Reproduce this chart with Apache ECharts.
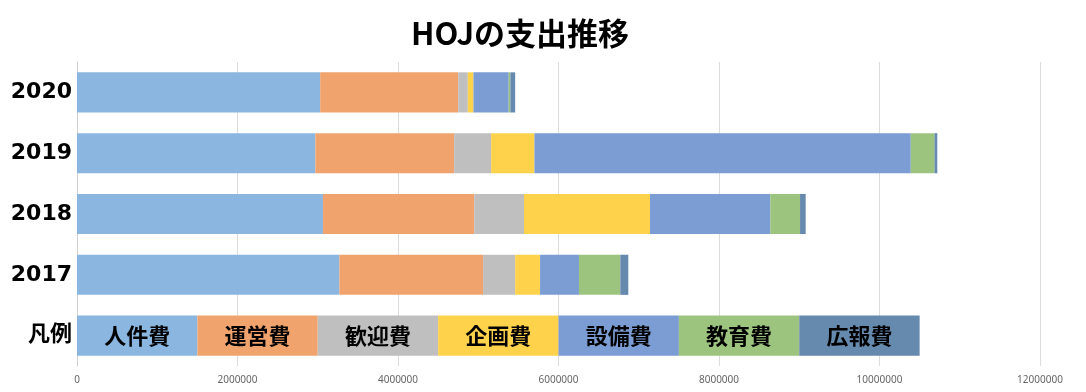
<!DOCTYPE html>
<html>
<head>
<meta charset="utf-8">
<script src="https://cdn.jsdelivr.net/npm/echarts@6/dist/echarts.min.js"></script>
<style>
html,body{margin:0;padding:0;background:#fff;}
#c{width:1086px;height:392px;}
</style>
</head>
<body>
<div id="c"></div>
<script>
const categories = ['凡例', '2017', '2018', '2019', '2020'];
const seriesNames = ['人件費', '運営費', '歓迎費', '企画費', '設備費', '教育費', '広報費'];
// values per category: [凡例, 2017, 2018, 2019, 2020]
const jinkenhi = [1500000, 3270000, 3065000, 2970000, 3030000];
const uneihi   = [1500000, 1790000, 1885000, 1730000, 1720000];
const kangeihi = [1500000,  400000,  620000,  460000,  120000];
const kikakuhi = [1500000,  310000, 1570000,  540000,   70000];
const setsubihi= [1500000,  485000, 1500000, 4690000,  440000];
const kyouikuhi= [1500000,  515000,  370000,  295000,   20000];
const kouhouhi = [1500000,  100000,   70000,   35000,   60000];
const xTicks = [0, 2000000, 4000000, 6000000, 8000000, 10000000, 12000000];

const values = [jinkenhi, uneihi, kangeihi, kikakuhi, setsubihi, kyouikuhi, kouhouhi];
const colors = ['#8BB6E0', '#F0A36C', '#BFBFBF', '#FFD24C', '#7C9DD3', '#9CC47F', '#6689AE'];

const chart = echarts.init(document.getElementById('c'), null, {renderer: 'canvas'});
chart.setOption({
  animation: false,
  backgroundColor: '#ffffff',
  title: {
    text: 'HOJの支出推移',
    left: 515,
    top: 13,
    textAlign: 'center',
    textStyle: {
      fontFamily: '"Noto Sans CJK JP", sans-serif',
      fontWeight: 'bold',
      fontSize: 31,
      color: '#000'
    }
  },
  grid: {left: 77, right: 46, top: 62, bottom: 26, containLabel: false},
  xAxis: {
    type: 'value',
    min: xTicks[0],
    max: xTicks[xTicks.length - 1],
    interval: xTicks[1] - xTicks[0],
    axisLine: {show: false},
    axisTick: {show: false},
    splitLine: {show: true, lineStyle: {color: '#DCDCDC', width: 1}},
    axisLabel: {
      color: '#666666',
      fontSize: 10,
      fontFamily: '"Noto Sans", sans-serif',
      margin: 9,
      formatter: v => String(v)
    }
  },
  yAxis: {
    type: 'category',
    data: categories,
    axisLine: {show: true, lineStyle: {color: '#D0D0D0'}},
    axisTick: {show: false},
    axisLabel: {
      color: '#000',
      fontWeight: 'bold',
      fontSize: 22,
      margin: 5,
      fontFamily: '"DejaVu Sans", "Noto Sans CJK JP", sans-serif'
    }
  },
  series: seriesNames.map((name, i) => ({
    name: name,
    type: 'bar',
    stack: 'total',
    barCategoryGap: '34%',
    data: values[i],
    itemStyle: {color: colors[i]},
    label: {
      show: true,
      position: 'inside',
      color: '#000',
      fontWeight: 'bold',
      fontSize: 22,
      fontFamily: '"Noto Sans CJK JP", sans-serif',
      formatter: p => p.dataIndex === 0 ? p.seriesName : ''
    }
  }))
});
</script>
</body>
</html>
